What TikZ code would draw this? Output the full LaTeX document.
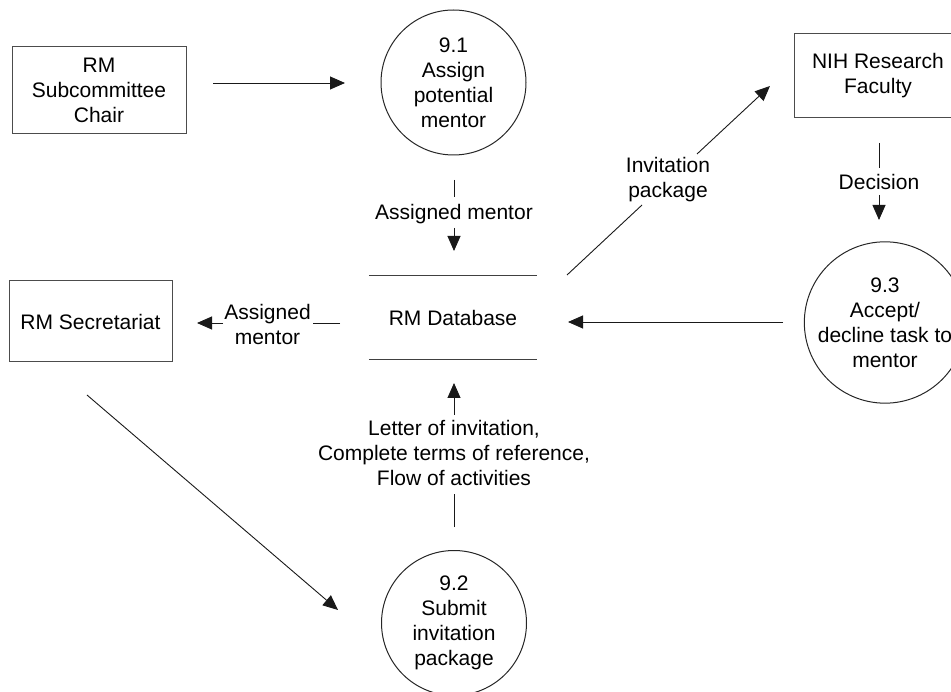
\documentclass[tikz,border=0pt]{standalone}
\usepackage{fontspec}
\setmainfont{Liberation Sans}
\usetikzlibrary{arrows.meta}
\begin{document}
\begin{tikzpicture}[x=1pt,y=-1pt,
  every node/.style={font=\fontsize{21}{25}\selectfont, align=center, inner sep=0pt},
  ext/.style={draw=black!70, line width=1pt, rectangle},
  proc/.style={draw=black!85, line width=1pt, circle, minimum size=145pt},
  store/.style={rectangle, minimum width=168pt, minimum height=83pt},
  flow/.style={line width=0.9pt, draw=black!90},
  arr/.style={flow, -{Triangle[length=15pt,width=13pt]}},
]
\useasboundingbox (0,0) rectangle (951,692);
\clip (0,0) rectangle (951,692);

% entities
\node[ext, minimum width=174pt, minimum height=87pt] (chair) at (99,90.5) {RM\\Subcommittee\\Chair};
\node[ext, minimum width=163pt, minimum height=81pt] (sec) at (90.5,321.5) {RM Secretariat};
\node[ext, minimum width=168pt, minimum height=84pt] (nih) at (878,76) {NIH Research\\Faculty};

% processes
\node[proc] (p1) at (453.5,82.5) {9.1\\Assign\\potential\\mentor};
\node[proc] (p2) at (454,623) {9.2\\Submit\\invitation\\package};
\node[proc] (p3) at (885,322.5) {9.3\\Accept/\\decline task to\\mentor};

% data store
\node[store] (db) at (453,317.5) {RM Database};
\draw[flow, draw=black!75] (db.north west) -- (db.north east);
\draw[flow, draw=black!75] (db.south west) -- (db.south east);

% labels
\node (l1) at (454,214) {Assigned mentor};
\node (l2) at (267.5,324) {Assigned\\mentor};
\node (l3) at (668,180) {Invitation\\package};
\node (l4) at (879,182) {Decision};
\node (l5) at (454,453) {Letter of invitation,\\Complete terms of reference,\\Flow of activities};

% connector coordinates
\coordinate (a1s) at (213,83);  \coordinate (a1e) at (345,83);
\coordinate (a2s) at (454,180); \coordinate (a2m) at (454,197);
\coordinate (a2n) at (454,228); \coordinate (a2e) at (454,251);
\coordinate (a3s) at (340,323); \coordinate (a3m) at (313,323);
\coordinate (a3n) at (223,323); \coordinate (a3e) at (197,323);
\coordinate (a4s) at (783,322); \coordinate (a4e) at (568,322);
\coordinate (a5s) at (567,275); \coordinate (a5m) at (642,205);
\coordinate (a5n) at (697,154); \coordinate (a5e) at (770,86);
\coordinate (a6s) at (879,143); \coordinate (a6m) at (879,168);
\coordinate (a6n) at (879,195); \coordinate (a6e) at (879,220);
\coordinate (a7s) at (87,395);  \coordinate (a7e) at (338,610);
\coordinate (a8s) at (454,527); \coordinate (a8m) at (454,494);
\coordinate (a8n) at (454,415); \coordinate (a8e) at (454,383);

% flows
\draw[arr] (a1s) -- (a1e);
\draw[flow] (a2s) -- (a2m);
\draw[arr] (a2n) -- (a2e);
\draw[flow] (a3s) -- (a3m);
\draw[arr] (a3n) -- (a3e);
\draw[arr] (a4s) -- (a4e);
\draw[flow] (a5s) -- (a5m);
\draw[arr] (a5n) -- (a5e);
\draw[flow] (a6s) -- (a6m);
\draw[arr] (a6n) -- (a6e);
\draw[arr] (a7s) -- (a7e);
\draw[flow] (a8s) -- (a8m);
\draw[arr] (a8n) -- (a8e);
\end{tikzpicture}
\end{document}
